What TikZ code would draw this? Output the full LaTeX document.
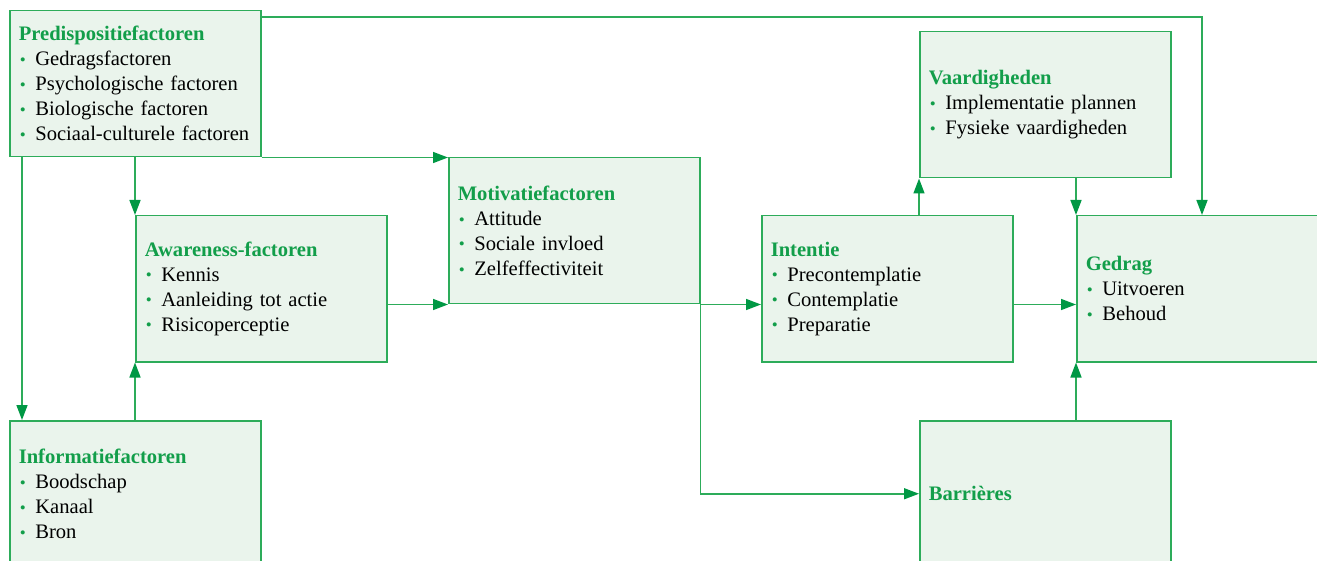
\documentclass[tikz,border=0pt]{standalone}
\usepackage{fontspec}
\setmainfont{Liberation Serif}
\usetikzlibrary{arrows.meta,calc}
\definecolor{lgreen}{RGB}{45,172,90}
\definecolor{agreen}{RGB}{0,152,68}
\definecolor{tgreen}{RGB}{18,158,74}
\definecolor{lfill}{RGB}{234,244,236}
\newcommand\bul{\makebox[8.3pt][l]{\hspace{0.6pt}\raisebox{0.2pt}{\textcolor{tgreen}{\fontsize{8.5}{8.5}\selectfont •}}}}
\newcommand\ttl[1]{{\bfseries\color{tgreen}#1}}
\tikzset{
  fbox/.style={draw=lgreen, fill=lfill, line width=0.75pt, rectangle, anchor=north west,
    minimum height=73pt, inner xsep=4.5pt, inner ysep=0pt, text width=116.5pt, align=left,
    font=\fontsize{10.3}{12.5}\selectfont},
  conn/.style={draw=lgreen, line width=0.75pt, -{Triangle[length=7.5pt,width=5.5pt,fill=agreen,color=agreen]}},
  plain/.style={draw=lgreen, line width=0.75pt}
}
\begin{document}
\begin{tikzpicture}[x=0.5pt,y=-0.5pt]
\useasboundingbox (0,0) rectangle (1317,561);
\clip (0,0) rectangle (1317,561);
\node[fbox] (pre) at (9,10) {\ttl{Predispositiefactoren}\\\bul Gedragsfactoren\\\bul Psychologische factoren\\\bul Biologische factoren\\\bul Sociaal-culturele factoren};
\node[fbox] (awa) at (135,215) {\ttl{Awareness-factoren}\\\bul Kennis\\\bul Aanleiding tot actie\\\bul Risicoperceptie};
\node[fbox] (inf) at (9,420) {\ttl{Informatiefactoren}\\\bul Boodschap\\\bul Kanaal\\\bul Bron};
\node[fbox] (mot) at (448,157) {\ttl{Motivatiefactoren}\\\bul Attitude\\\bul Sociale invloed\\\bul Zelfeffectiviteit};
\node[fbox] (int) at (761,215) {\ttl{Intentie}\\\bul Precontemplatie\\\bul Contemplatie\\\bul Preparatie};
\node[fbox] (vaa) at (919,31) {\ttl{Vaardigheden}\\\bul Implementatie plannen\\\bul Fysieke vaardigheden};
\node[fbox] (ged) at (1076,215) {\ttl{Gedrag}\\\bul Uitvoeren\\\bul Behoud};
\node[fbox] (bar) at (919,420) {\ttl{Barrières}};

\draw[conn] ([yshift=-3.5pt]pre.north east) -| ([xshift=63pt]ged.north west);
\draw[conn] (pre.south east) -- (pre.south east -| mot.west);
\draw[conn] (awa.north west |- pre.south) -- (awa.north west);
\draw[conn] ([xshift=6.5pt]pre.south west) -- ([xshift=6.5pt]inf.north west);
\draw[conn] (inf.north -| awa.south west) -- (awa.south west);
\draw[conn] (awa.east |- mot.south) -- (mot.south west);
\draw[conn] (mot.south east) -- (mot.south east -| int.west);
\draw[conn] (mot.south east) |- (bar.west);
\draw[conn] (int.north -| vaa.south west) -- (vaa.south west);
\draw[conn] (vaa.south -| ged.north west) -- (ged.north west);
\draw[conn] (int.east |- mot.south) -- (ged.west |- mot.south);
\draw[conn] (bar.north -| ged.south west) -- (ged.south west);
\end{tikzpicture}
\end{document}
